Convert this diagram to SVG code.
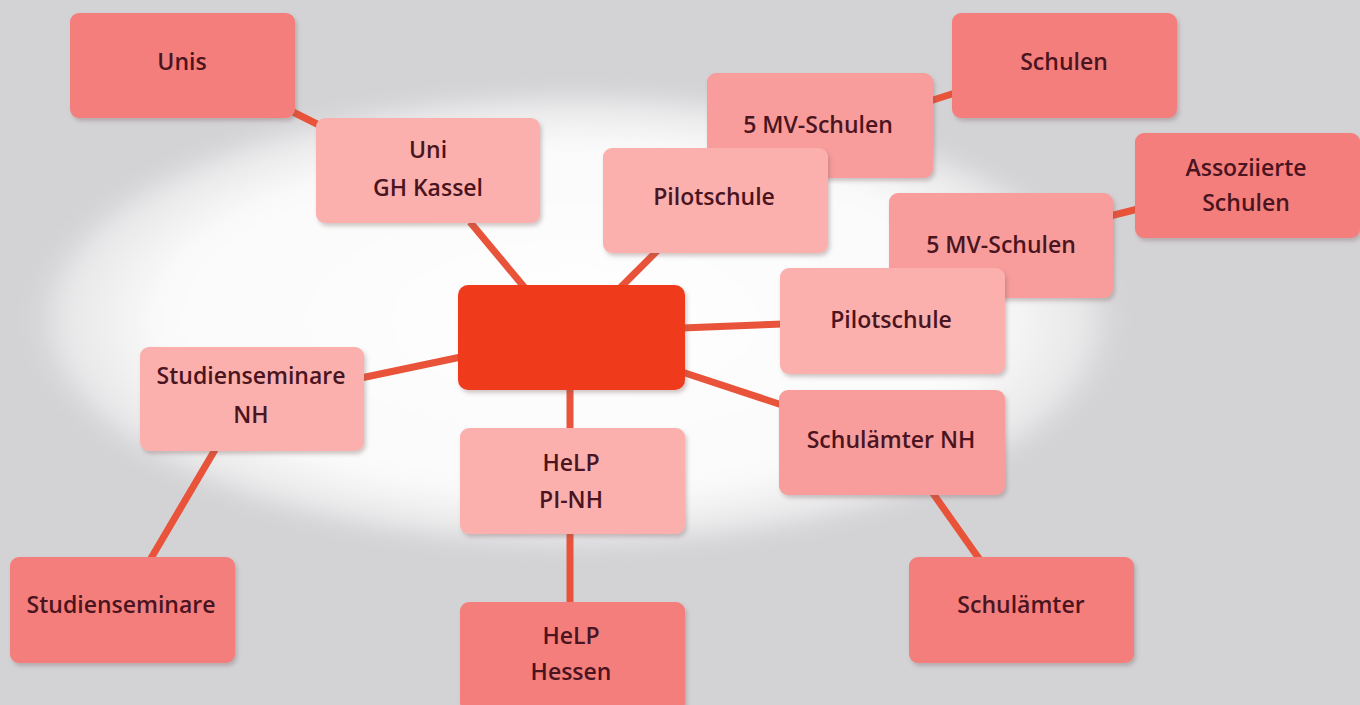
<svg xmlns="http://www.w3.org/2000/svg" width="1360" height="705" viewBox="0 0 1360 705">
<defs>
<radialGradient id="glow" cx="0.5" cy="0.5" r="0.5">
<stop offset="0" stop-color="#ffffff"/>
<stop offset="0.75" stop-color="#fafafa"/>
<stop offset="0.92" stop-color="#ededee" stop-opacity="0.8"/>
<stop offset="1" stop-color="#d6d6d8" stop-opacity="0"/>
</radialGradient>
<filter id="blur" x="-20%" y="-20%" width="140%" height="140%"><feGaussianBlur stdDeviation="10"/></filter>
<filter id="sh" x="-10%" y="-10%" width="125%" height="130%"><feDropShadow dx="2" dy="3" stdDeviation="2" flood-color="#806060" flood-opacity="0.35"/></filter>
<style>
.n rect{filter:url(#sh)}
.d{fill:#f47e7c}
.m{fill:#f89d9b}
.l{fill:#fbb0ae}
.c{fill:#ef3b1f}
text{font-family:"Open Sans","Noto Sans","Liberation Sans",sans-serif;font-weight:600;font-size:23px;fill:#4a1420;text-anchor:middle}
.e line{stroke:#e8533a;stroke-width:7;stroke-linecap:butt}
</style>
</defs>
<rect width="1360" height="705" fill="#d3d3d6"/>
<ellipse cx="575" cy="320" rx="555" ry="235" fill="url(#glow)" filter="url(#blur)"/>
<g class="e" id="connectors">
<line x1="285" y1="108" x2="325" y2="128"/>
<line x1="470" y1="222" x2="525" y2="288"/>
<line x1="658" y1="250" x2="620" y2="288"/>
<line x1="930" y1="101" x2="955" y2="93"/>
<line x1="1110" y1="216" x2="1138" y2="209"/>
<line x1="682" y1="328" x2="783" y2="324"/>
<line x1="682" y1="372" x2="782" y2="405"/>
<line x1="461" y1="357" x2="361" y2="378"/>
<line x1="216" y1="448" x2="150" y2="560"/>
<line x1="570" y1="388" x2="570" y2="430"/>
<line x1="570" y1="532" x2="570" y2="605"/>
<line x1="932" y1="492" x2="980" y2="560"/>
</g>
<g class="n" id="unis"><rect class="d" x="70" y="13" width="225" height="105" rx="9"/><text x="182" y="70">Unis</text></g>
<g class="n" id="unigh"><rect class="l" x="316" y="118" width="224" height="105" rx="9"/><text x="428" y="158">Uni</text><text x="428" y="196">GH Kassel</text></g>
<g class="n" id="schulen"><rect class="d" x="952" y="13" width="225" height="105" rx="9"/><text x="1064" y="70">Schulen</text></g>
<g class="n" id="mv1"><rect class="m" x="707" y="73" width="226" height="105" rx="9"/><text x="818" y="133">5 MV-Schulen</text></g>
<g class="n" id="pilot1"><rect class="l" x="603" y="148" width="225" height="105" rx="9"/><text x="714" y="205">Pilotschule</text></g>
<g class="n" id="assoz"><rect class="d" x="1135" y="133" width="225" height="105" rx="9"/><text x="1246" y="176">Assoziierte</text><text x="1246" y="211">Schulen</text></g>
<g class="n" id="mv2"><rect class="m" x="889" y="193" width="224" height="105" rx="9"/><text x="1001" y="253">5 MV-Schulen</text></g>
<g class="n" id="pilot2"><rect class="l" x="780" y="268" width="225" height="106" rx="9"/><text x="891" y="328">Pilotschule</text></g>
<g class="n" id="center"><rect class="c" x="458" y="285" width="227" height="105" rx="10"/></g>
<g class="n" id="studnh"><rect class="l" x="140" y="347" width="224" height="104" rx="9"/><text x="251" y="384">Studienseminare</text><text x="251" y="423">NH</text></g>
<g class="n" id="helppi"><rect class="l" x="460" y="428" width="225" height="106" rx="9"/><text x="571" y="471">HeLP</text><text x="571" y="508">PI-NH</text></g>
<g class="n" id="schulnh"><rect class="m" x="779" y="390" width="226" height="105" rx="9"/><text x="891" y="448">Schulämter NH</text></g>
<g class="n" id="stud"><rect class="d" x="10" y="557" width="225" height="106" rx="9"/><text x="121" y="613">Studienseminare</text></g>
<g class="n" id="helph"><rect class="d" x="460" y="602" width="225" height="110" rx="9"/><text x="571" y="644">HeLP</text><text x="571" y="680">Hessen</text></g>
<g class="n" id="schul"><rect class="d" x="909" y="557" width="225" height="106" rx="9"/><text x="1021" y="613">Schulämter</text></g>
</svg>
